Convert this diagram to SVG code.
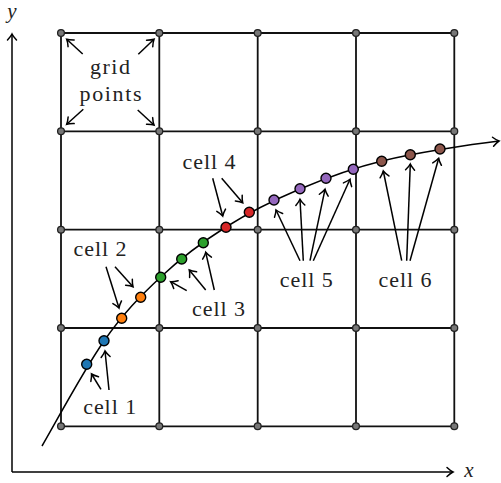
<svg xmlns="http://www.w3.org/2000/svg" width="501" height="483" viewBox="0 0 501 483">
<defs>
<marker id="ah" markerWidth="12" markerHeight="12" refX="0" refY="0" viewBox="-8 -6 10 12" orient="auto" markerUnits="userSpaceOnUse">
<path d="M-6,-4.5 Q-2.5,-1.2 0,0 Q-2.5,1.2 -6,4.5" fill="none" stroke="#000" stroke-width="1.5" stroke-linecap="round"/>
</marker>
<style>
.grid{stroke:#111;stroke-width:1.8;fill:none}
.gp{fill:#777;stroke:#222;stroke-width:1.3}
.ax{stroke:#000;stroke-width:1.5;fill:none;marker-end:url(#ah)}
.ar{stroke:#000;stroke-width:1.5;fill:none;marker-end:url(#ah)}
.t{font-family:"Liberation Serif",serif;font-size:22px;fill:#222;text-anchor:middle}
.it{font-family:"Liberation Serif",serif;font-style:italic;font-size:21px;fill:#222;text-anchor:middle}
.d{stroke:#000;stroke-width:1.4}
</style>
</defs>
<g id="axes">
<path class="ax" d="M12,472 L12,34"/>
<path class="ax" d="M12,472 L453,472"/>
<text class="it" x="12" y="18">y</text>
<text class="it" x="469" y="477">x</text>
</g>
<g id="grid">
<path class="grid" d="M61,33V426.3M159.3,33V426.3M257.7,33V426.3M356,33V426.3M454.3,33V426.3M61,33H454.3M61,131.3H454.3M61,229.7H454.3M61,328H454.3M61,426.3H454.3"/>
<g id="gridpoints">
<circle class="gp" cx="61" cy="33" r="3.4"/><circle class="gp" cx="159.3" cy="33" r="3.4"/><circle class="gp" cx="257.7" cy="33" r="3.4"/><circle class="gp" cx="356" cy="33" r="3.4"/><circle class="gp" cx="454.3" cy="33" r="3.4"/>
<circle class="gp" cx="61" cy="131.3" r="3.4"/><circle class="gp" cx="159.3" cy="131.3" r="3.4"/><circle class="gp" cx="257.7" cy="131.3" r="3.4"/><circle class="gp" cx="356" cy="131.3" r="3.4"/><circle class="gp" cx="454.3" cy="131.3" r="3.4"/>
<circle class="gp" cx="61" cy="229.7" r="3.4"/><circle class="gp" cx="159.3" cy="229.7" r="3.4"/><circle class="gp" cx="257.7" cy="229.7" r="3.4"/><circle class="gp" cx="356" cy="229.7" r="3.4"/><circle class="gp" cx="454.3" cy="229.7" r="3.4"/>
<circle class="gp" cx="61" cy="328" r="3.4"/><circle class="gp" cx="159.3" cy="328" r="3.4"/><circle class="gp" cx="257.7" cy="328" r="3.4"/><circle class="gp" cx="356" cy="328" r="3.4"/><circle class="gp" cx="454.3" cy="328" r="3.4"/>
<circle class="gp" cx="61" cy="426.3" r="3.4"/><circle class="gp" cx="159.3" cy="426.3" r="3.4"/><circle class="gp" cx="257.7" cy="426.3" r="3.4"/><circle class="gp" cx="356" cy="426.3" r="3.4"/><circle class="gp" cx="454.3" cy="426.3" r="3.4"/>
</g>
</g>
<g id="curve">
<path class="ax" d="M42,446 C52.3,428.5 84.2,369.2 104,341 C123.8,312.8 140.4,296 160.7,277 C181,258 202.8,241.7 226,227 C249.2,212.3 274,200 300,189 C326,178 349.2,169 382,161 C414.8,153 470,144.5 499,141"/>
</g>
<g id="connectors">
<path class="ar" d="M82.7,54 L66.7,39.3"/>
<path class="ar" d="M138.3,54.3 L154,39.3"/>
<path class="ar" d="M83.3,109.3 L66.7,124.3"/>
<path class="ar" d="M137.7,110 L154,125"/>
<path class="ar" d="M101,389.3 L91.5,374"/>
<path class="ar" d="M109,390 L105,351"/>
<path class="ar" d="M106,266.7 L119,308"/>
<path class="ar" d="M115,266.7 L133,286.7"/>
<path class="ar" d="M186.7,290.7 L170.7,281.7"/>
<path class="ar" d="M205.7,290 L189.3,270"/>
<path class="ar" d="M214.3,290 L205.7,252.3"/>
<path class="ar" d="M212.7,178.3 L222.7,216"/>
<path class="ar" d="M221.7,178.3 L242.7,202.7"/>
<path class="ar" d="M300,260.7 L276,210"/>
<path class="ar" d="M303.3,260.7 L300,199.3"/>
<path class="ar" d="M310,260.7 L325,189.3"/>
<path class="ar" d="M313.3,260.7 L350,179.3"/>
<path class="ar" d="M401.7,260.7 L383.3,171"/>
<path class="ar" d="M406.7,260.7 L410.3,164"/>
<path class="ar" d="M410,260.7 L438.7,158.3"/>
</g>
<g id="cell1"><circle class="d" cx="86.7" cy="364.3" r="5" fill="#1f77b4"/><circle class="d" cx="104" cy="340.7" r="5" fill="#1f77b4"/></g>
<g id="cell2"><circle class="d" cx="121.7" cy="318.3" r="5" fill="#ff7f0e"/><circle class="d" cx="140.7" cy="297.3" r="5" fill="#ff7f0e"/></g>
<g id="cell3"><circle class="d" cx="160.7" cy="277.3" r="5" fill="#2ca02c"/><circle class="d" cx="181.7" cy="259" r="5" fill="#2ca02c"/><circle class="d" cx="203.3" cy="242.7" r="5" fill="#2ca02c"/></g>
<g id="cell4"><circle class="d" cx="226" cy="227.3" r="5" fill="#d62728"/><circle class="d" cx="249.3" cy="212.3" r="5" fill="#d62728"/></g>
<g id="cell5"><circle class="d" cx="274" cy="200" r="5" fill="#9467bd"/><circle class="d" cx="300" cy="188.7" r="5" fill="#9467bd"/><circle class="d" cx="326" cy="178.3" r="5" fill="#9467bd"/><circle class="d" cx="353.3" cy="169.3" r="5" fill="#9467bd"/></g>
<g id="cell6"><circle class="d" cx="381.7" cy="161.3" r="5" fill="#8c564b"/><circle class="d" cx="410.3" cy="154.7" r="5" fill="#8c564b"/><circle class="d" cx="440" cy="149" r="5" fill="#8c564b"/></g>
<g id="labels">
<text class="t" x="110" y="74" textLength="40" lengthAdjust="spacing">grid</text>
<text class="t" x="110.5" y="100.5" textLength="62" lengthAdjust="spacing">points</text>
<text class="t" x="100" y="256" textLength="53" lengthAdjust="spacing">cell 2</text>
<text class="t" x="218.5" y="315.7" textLength="53" lengthAdjust="spacing">cell 3</text>
<text class="t" x="109.7" y="414.3" textLength="53" lengthAdjust="spacing">cell 1</text>
<text class="t" x="209" y="169.3" textLength="53" lengthAdjust="spacing">cell 4</text>
<text class="t" x="306.3" y="286.7" textLength="53" lengthAdjust="spacing">cell 5</text>
<text class="t" x="405" y="286.7" textLength="53" lengthAdjust="spacing">cell 6</text>
</g>
</svg>
